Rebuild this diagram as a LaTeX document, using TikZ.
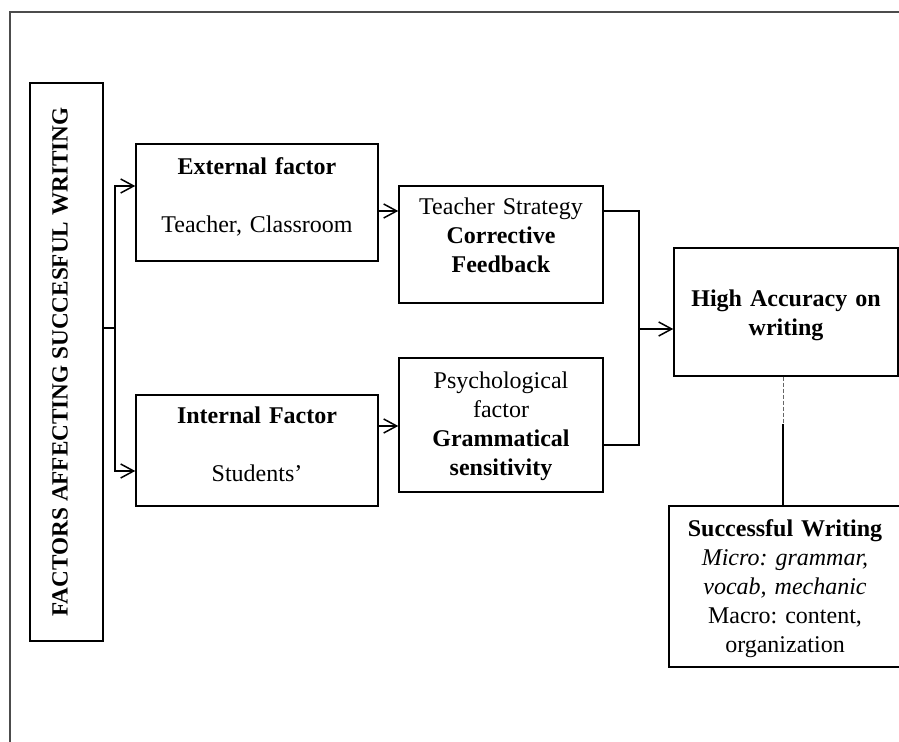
\documentclass[tikz,border=0pt]{standalone}
\usepackage{fontspec}
\setmainfont{Liberation Serif}
\usetikzlibrary{arrows.meta}
\frenchspacing

\begin{document}
\begin{tikzpicture}[x=0.5pt,y=-0.5pt,line width=0.75pt,
	every node/.style={font=\fontsize{12}{14.5}\selectfont},
	fbox/.style={draw,align=center,inner sep=3.5pt},
	arr/.style={-{Straight Barb[length=6.5pt,width=7pt]}}]
			\clip (0,0) rectangle (899,742);
			\draw[black!70,line width=1pt] (905,12) -- (10,12) -- (10,750);
			\node[fbox,rotate=90,minimum width=279pt,minimum height=36.5pt,text depth=6.5pt,font=\fontsize{11.6}{14}\selectfont] (title) at (66.5,362) {\textbf{FACTORS AFFECTING SUCCESFUL WRITING}};
			\node[fbox,text width=114pt,text height=12pt,text depth=39.5pt] (ext) at (257,202.5) {\textbf{External factor}\\[14.5pt]Teacher, Classroom};
			\node[fbox,text width=114pt,text height=11pt,text depth=37.5pt] (intl) at (257,450.5) {\textbf{Internal Factor}\\[14.5pt]Students'};
			\node[fbox,text width=95pt,text height=11pt,text depth=40.5pt] (strat) at (501,244.5) {Teacher Strategy\\\textbf{Corrective}\\\textbf{Feedback}};
			\node[fbox,text width=95pt,text height=12pt,text depth=48pt] (psy) at (501,425) {Psychological\\factor\\\textbf{Grammatical}\\\textbf{sensitivity}};
			\node[fbox,text width=105pt,text height=26pt,text depth=31pt] (acc) at (786,312) {\textbf{High Accuracy on}\\\textbf{writing}};
			\node[fbox,text width=109pt,text height=12pt,text depth=61.5pt] (succ) at (785,586.5) {\textbf{Successful Writing}\\\textit{Micro: grammar,}\\\textit{vocab, mechanic}\\Macro: content,\\organization};
			\coordinate (fork) at (115,328);
			\coordinate (join) at (639,329);
			\coordinate (mid) at (783,424);
			\draw ([yshift=17pt]title.south) -- (fork);
			\draw[arr] (fork) |- ([yshift=8.25pt]ext.west);
			\draw[arr] (fork) |- ([yshift=-10.25pt]intl.west);
			\draw[arr] ([yshift=-4.25pt]ext.east) -- ([yshift=-4.25pt]ext.east -| strat.west);
			\draw[arr] ([yshift=12.25pt]intl.east) -- ([yshift=12.25pt]intl.east -| psy.west);
			\draw ([yshift=16.75pt]strat.east) -| (join);
			\draw ([yshift=-10pt]psy.east) -| (join);
			\draw[arr] (join) -- (join -| acc.west);
			\draw[black!60,dash pattern=on 2pt off 1pt,line width=0.5pt] (acc.south -| mid) -- (mid);
			\draw (mid) -- (mid |- succ.north);
		\end{tikzpicture}
\end{document}
